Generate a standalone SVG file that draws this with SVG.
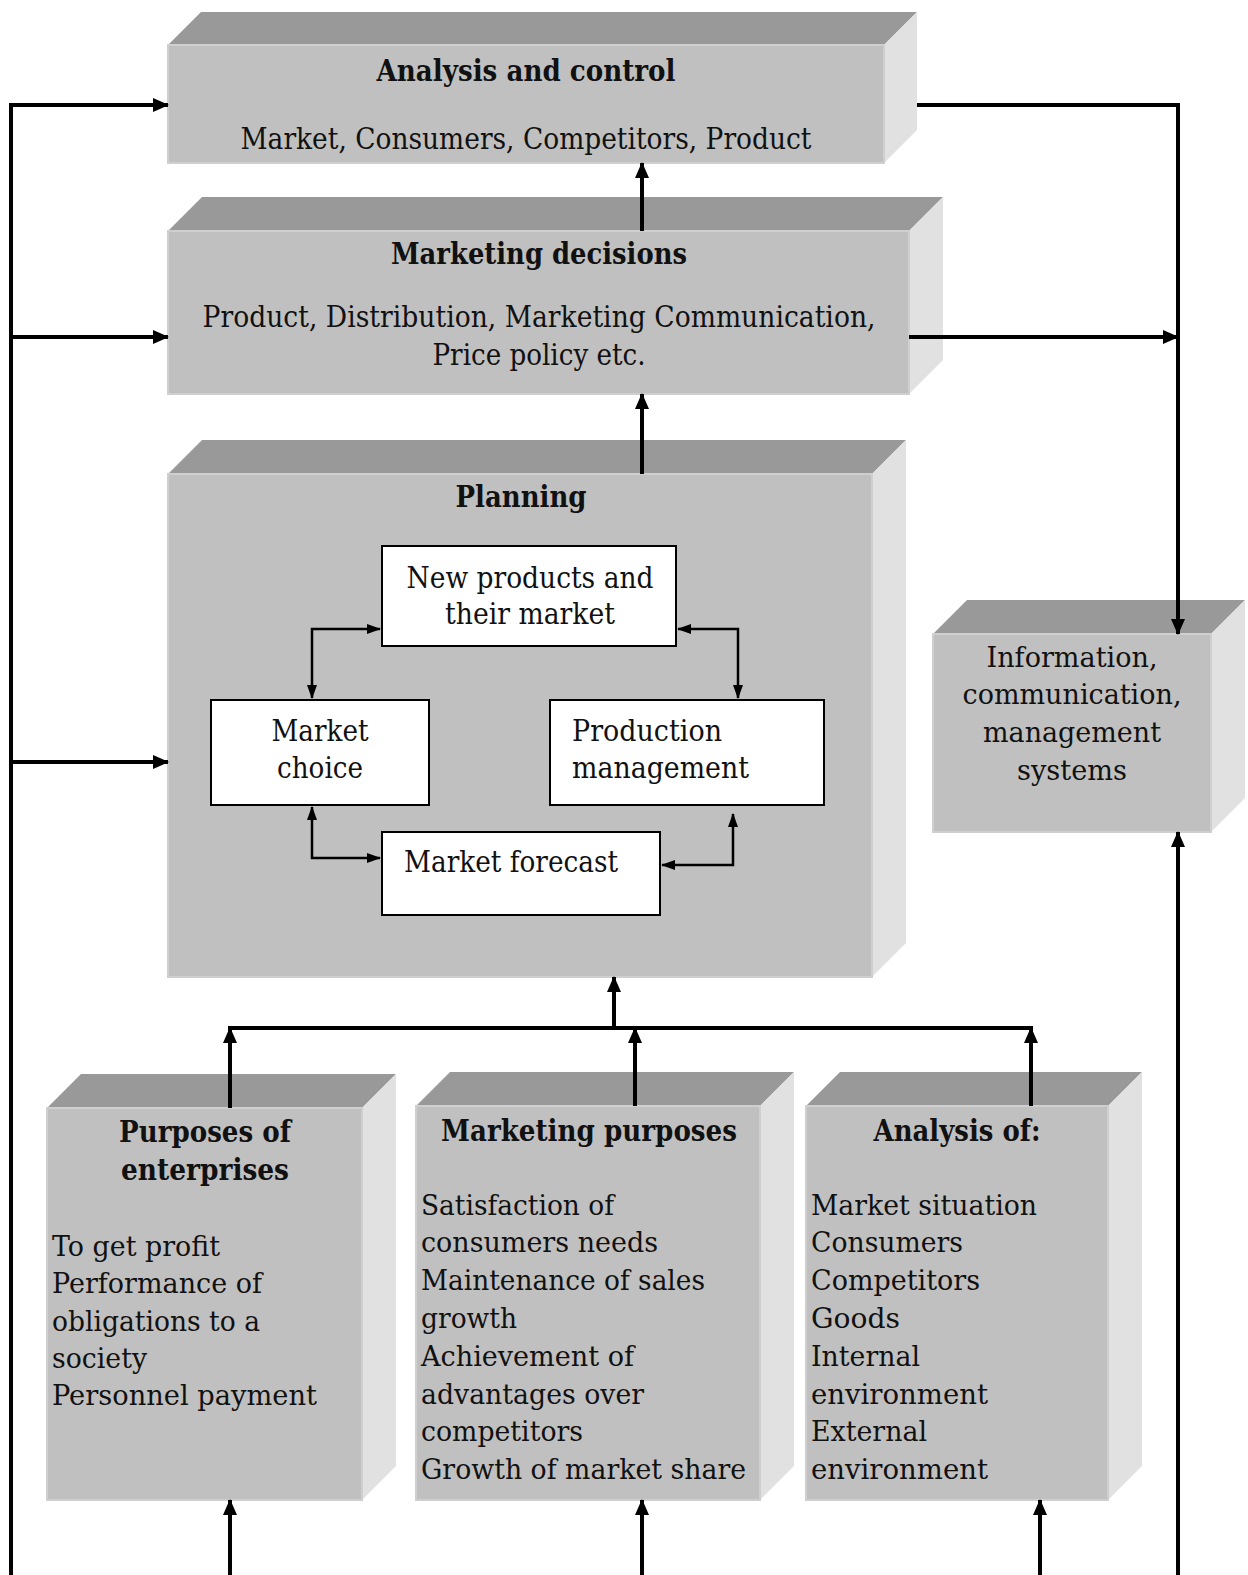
<svg xmlns="http://www.w3.org/2000/svg" width="1248" height="1575" viewBox="0 0 1248 1575">
  <defs>
    <style>
      .front { fill: #c0c0c0; stroke: #cfcfcf; stroke-width: 2; }
      .top { fill: #999999; }
      .side { fill: #e1e1e1; }
      .inner { fill: #ffffff; stroke: #000000; stroke-width: 2; }
      text { font-family: "DejaVu Serif", "Liberation Serif", serif; fill: #111111; }
      .h { font-weight: bold; font-size: 30px; }
      .t { font-size: 30px; }
      .b { font-size: 28px; }
      .c { text-anchor: middle; }
      .thick { fill: none; stroke: #000000; stroke-width: 4; }
      .thin { fill: none; stroke: #000000; stroke-width: 2.5; }
    </style>
    <marker id="big" markerUnits="userSpaceOnUse" markerWidth="16" markerHeight="14" refX="15" refY="7" orient="auto-start-reverse">
      <path d="M0,0 L16,7 L0,14 Z" fill="#000"/>
    </marker>
    <marker id="small" markerUnits="userSpaceOnUse" markerWidth="14" markerHeight="12" refX="13" refY="6" orient="auto-start-reverse">
      <path d="M0,1 L14,6 L0,11 Z" fill="#000"/>
    </marker>
  </defs>

  <!-- Analysis and control -->
  <g id="analysis-control">
    <polygon class="top" points="168,45 201,12 917,12 884,45"/>
    <polygon class="side" points="884,45 917,12 917,130 884,163"/>
    <rect class="front" x="168" y="45" width="716" height="118"/>
    <text class="h c" x="526" y="81" textLength="299" lengthAdjust="spacingAndGlyphs">Analysis and control</text>
    <text class="t c" x="526" y="149" textLength="571" lengthAdjust="spacingAndGlyphs">Market, Consumers, Competitors, Product</text>
  </g>

  <!-- Marketing decisions -->
  <g id="marketing-decisions">
    <polygon class="top" points="168,231 202,197 943,197 909,231"/>
    <polygon class="side" points="909,231 943,197 943,360 909,394"/>
    <rect class="front" x="168" y="231" width="741" height="163"/>
    <text class="h c" x="539" y="264" textLength="296" lengthAdjust="spacingAndGlyphs">Marketing decisions</text>
    <text class="t c" x="539" y="327" textLength="673" lengthAdjust="spacingAndGlyphs">Product, Distribution, Marketing Communication,</text>
    <text class="t c" x="539" y="365" textLength="213" lengthAdjust="spacingAndGlyphs">Price policy etc.</text>
  </g>

  <!-- Planning -->
  <g id="planning">
    <polygon class="top" points="168,474 202,440 906,440 872,474"/>
    <polygon class="side" points="872,474 906,440 906,943 872,977"/>
    <rect class="front" x="168" y="474" width="704" height="503"/>
    <text class="h c" x="521" y="507" textLength="131" lengthAdjust="spacingAndGlyphs">Planning</text>
  </g>

  <g id="new-products">
    <rect class="inner" x="382" y="546" width="294" height="100"/>
    <text class="t c" x="530" y="588" textLength="247" lengthAdjust="spacingAndGlyphs">New products and</text>
    <text class="t c" x="530" y="624" textLength="170" lengthAdjust="spacingAndGlyphs">their market</text>
  </g>

  <g id="market-choice">
    <rect class="inner" x="211" y="700" width="218" height="105"/>
    <text class="t c" x="320" y="741" textLength="97" lengthAdjust="spacingAndGlyphs">Market</text>
    <text class="t c" x="320" y="778" textLength="86" lengthAdjust="spacingAndGlyphs">choice</text>
  </g>

  <g id="production-management">
    <rect class="inner" x="550" y="700" width="274" height="105"/>
    <text class="t" x="572" y="741" textLength="150" lengthAdjust="spacingAndGlyphs">Production</text>
    <text class="t" x="572" y="778" textLength="177" lengthAdjust="spacingAndGlyphs">management</text>
  </g>

  <g id="market-forecast">
    <rect class="inner" x="382" y="832" width="278" height="83"/>
    <text class="t" x="404" y="872" textLength="214" lengthAdjust="spacingAndGlyphs">Market forecast</text>
  </g>

  <!-- Information systems -->
  <g id="information-systems">
    <polygon class="top" points="933,634 967,600 1245,600 1211,634"/>
    <polygon class="side" points="1211,634 1245,600 1245,798 1211,832"/>
    <rect class="front" x="933" y="634" width="278" height="198"/>
    <text class="b c" x="1072" y="667" textLength="171" lengthAdjust="spacingAndGlyphs">Information,</text>
    <text class="b c" x="1072" y="704" textLength="219" lengthAdjust="spacingAndGlyphs">communication,</text>
    <text class="b c" x="1072" y="742" textLength="178" lengthAdjust="spacingAndGlyphs">management</text>
    <text class="b c" x="1072" y="780" textLength="110" lengthAdjust="spacingAndGlyphs">systems</text>
  </g>

  <!-- Purposes of enterprises -->
  <g id="enterprise-purposes">
    <polygon class="top" points="47,1108 81,1074 396,1074 362,1108"/>
    <polygon class="side" points="362,1108 396,1074 396,1466 362,1500"/>
    <rect class="front" x="47" y="1108" width="315" height="392"/>
    <text class="h c" x="205" y="1142" textLength="172" lengthAdjust="spacingAndGlyphs">Purposes of</text>
    <text class="h c" x="205" y="1180" textLength="168" lengthAdjust="spacingAndGlyphs">enterprises</text>
    <text class="b" x="52" y="1256" textLength="168" lengthAdjust="spacingAndGlyphs">To get profit</text>
    <text class="b" x="52" y="1293" textLength="210" lengthAdjust="spacingAndGlyphs">Performance of</text>
    <text class="b" x="52" y="1331" textLength="208" lengthAdjust="spacingAndGlyphs">obligations to a</text>
    <text class="b" x="52" y="1368" textLength="95" lengthAdjust="spacingAndGlyphs">society</text>
    <text class="b" x="52" y="1405" textLength="265" lengthAdjust="spacingAndGlyphs">Personnel payment</text>
  </g>

  <!-- Marketing purposes -->
  <g id="marketing-purposes">
    <polygon class="top" points="416,1106 450,1072 794,1072 760,1106"/>
    <polygon class="side" points="760,1106 794,1072 794,1466 760,1500"/>
    <rect class="front" x="416" y="1106" width="344" height="394"/>
    <text class="h c" x="589" y="1141" textLength="296" lengthAdjust="spacingAndGlyphs">Marketing purposes</text>
    <text class="b" x="421" y="1215" textLength="193" lengthAdjust="spacingAndGlyphs">Satisfaction of</text>
    <text class="b" x="421" y="1252" textLength="237" lengthAdjust="spacingAndGlyphs">consumers needs</text>
    <text class="b" x="421" y="1290" textLength="284" lengthAdjust="spacingAndGlyphs">Maintenance of sales</text>
    <text class="b" x="421" y="1328" textLength="96" lengthAdjust="spacingAndGlyphs">growth</text>
    <text class="b" x="421" y="1366" textLength="213" lengthAdjust="spacingAndGlyphs">Achievement of</text>
    <text class="b" x="421" y="1404" textLength="223" lengthAdjust="spacingAndGlyphs">advantages over</text>
    <text class="b" x="421" y="1441" textLength="162" lengthAdjust="spacingAndGlyphs">competitors</text>
    <text class="b" x="421" y="1479" textLength="325" lengthAdjust="spacingAndGlyphs">Growth of market share</text>
  </g>

  <!-- Analysis of -->
  <g id="analysis-of">
    <polygon class="top" points="806,1106 840,1072 1142,1072 1108,1106"/>
    <polygon class="side" points="1108,1106 1142,1072 1142,1466 1108,1500"/>
    <rect class="front" x="806" y="1106" width="302" height="394"/>
    <text class="h c" x="957" y="1141" textLength="167" lengthAdjust="spacingAndGlyphs">Analysis of:</text>
    <text class="b" x="811" y="1215" textLength="226" lengthAdjust="spacingAndGlyphs">Market situation</text>
    <text class="b" x="811" y="1252" textLength="152" lengthAdjust="spacingAndGlyphs">Consumers</text>
    <text class="b" x="811" y="1290" textLength="169" lengthAdjust="spacingAndGlyphs">Competitors</text>
    <text class="b" x="811" y="1328" textLength="89" lengthAdjust="spacingAndGlyphs">Goods</text>
    <text class="b" x="811" y="1366" textLength="109" lengthAdjust="spacingAndGlyphs">Internal</text>
    <text class="b" x="811" y="1404" textLength="177" lengthAdjust="spacingAndGlyphs">environment</text>
    <text class="b" x="811" y="1441" textLength="116" lengthAdjust="spacingAndGlyphs">External</text>
    <text class="b" x="811" y="1479" textLength="177" lengthAdjust="spacingAndGlyphs">environment</text>
  </g>

  <!-- Connectors -->
  <g id="connectors">
    <!-- left feedback line and its branches -->
    <path class="thick" d="M11,1575 V103"/>
    <path class="thick" d="M9,105 H168" marker-end="url(#big)"/>
    <path class="thick" d="M11,337 H168" marker-end="url(#big)"/>
    <path class="thick" d="M11,762 H168" marker-end="url(#big)"/>

    <!-- right side to information systems -->
    <path class="thick" d="M917,105 H1178 V634" marker-end="url(#big)"/>
    <path class="thick" d="M909,337 H1178" marker-end="url(#big)"/>
    <path class="thick" d="M1178,1575 V832" marker-end="url(#big)"/>

    <!-- vertical flow up the stack -->
    <path class="thick" d="M642,231 V163" marker-end="url(#big)"/>
    <path class="thick" d="M642,474 V394" marker-end="url(#big)"/>

    <!-- bus from the three bottom boxes into planning -->
    <path class="thick" d="M228,1028 H1033"/>
    <path class="thick" d="M614,1028 V977" marker-end="url(#big)"/>
    <path class="thick" d="M230,1108 V1028" marker-end="url(#big)"/>
    <path class="thick" d="M635,1106 V1028" marker-end="url(#big)"/>
    <path class="thick" d="M1031,1106 V1028" marker-end="url(#big)"/>

    <!-- inputs from below -->
    <path class="thick" d="M230,1575 V1500" marker-end="url(#big)"/>
    <path class="thick" d="M642,1575 V1500" marker-end="url(#big)"/>
    <path class="thick" d="M1040,1575 V1500" marker-end="url(#big)"/>

    <!-- planning cycle -->
    <path class="thin" d="M312,698 V629 H380" marker-start="url(#small)" marker-end="url(#small)"/>
    <path class="thin" d="M678,629 H738 V698" marker-start="url(#small)" marker-end="url(#small)"/>
    <path class="thin" d="M312,807 V858 H380" marker-start="url(#small)" marker-end="url(#small)"/>
    <path class="thin" d="M662,865 H733 V814" marker-start="url(#small)" marker-end="url(#small)"/>
  </g>
</svg>
